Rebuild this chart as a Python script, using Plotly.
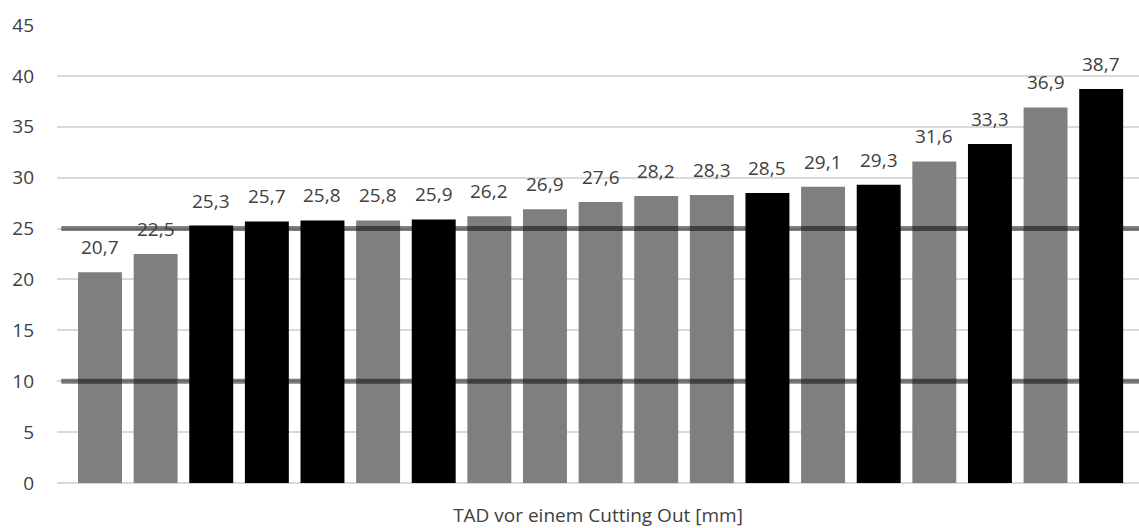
import plotly.graph_objects as go

# TAD measurements, sorted ascending
values = [20.7, 22.5, 25.3, 25.7, 25.8, 25.8, 25.9, 26.2, 26.9, 27.6,
          28.2, 28.3, 28.5, 29.1, 29.3, 31.6, 33.3, 36.9, 38.7]
# group flag per bar: 1 = black, 0 = grey
group = [0, 0, 1, 1, 1, 0, 1, 0, 0, 0, 0, 0, 1, 0, 1, 0, 1, 0, 1]
reference_lines = [10, 25]
y_ticks = [0, 5, 10, 15, 20, 25, 30, 35, 40, 45]

GREY = "#7f7f7f"
BLACK = "#000000"
FONT = "Open Sans"
TEXT_COLOR = "#404040"

x = list(range(len(values)))
colors = [BLACK if g else GREY for g in group]
labels = [f"{v:.1f}".replace(".", ",") for v in values]

fig = go.Figure()
fig.add_trace(go.Bar(
    x=x, y=values, marker=dict(color=colors, line=dict(width=0)),
    width=0.79, hoverinfo="skip", showlegend=False,
))

for xi, v, lab in zip(x, values, labels):
    fig.add_annotation(
        x=xi, y=v, xref="x", yref="y", text=lab, showarrow=False,
        yanchor="bottom", yshift=10,
        font=dict(family=FONT, size=19, color=TEXT_COLOR),
    )

for r in reference_lines:
    fig.add_shape(
        type="line", xref="paper", yref="y", x0=0.004, x1=1, y0=r, y1=r,
        line=dict(color="rgba(0,0,0,0.5)", width=5), layer="above",
    )

fig.update_layout(
    width=1139, height=528,
    margin=dict(l=57, r=0, t=25, b=45),
    paper_bgcolor="white", plot_bgcolor="white",
    bargap=0.21,
    font=dict(family=FONT, size=19, color=TEXT_COLOR),
    xaxis=dict(
        range=[-0.773, 18.68], showticklabels=False, showgrid=False,
        zeroline=False, showline=False, ticks="",
        title=dict(text="TAD vor einem Cutting Out [mm]", standoff=25,
                   font=dict(family=FONT, size=19, color=TEXT_COLOR)),
    ),
    yaxis=dict(
        range=[0, 45], tickvals=y_ticks, showgrid=True, gridcolor="#d9d9d9",
        gridwidth=1.5, zeroline=True, zerolinecolor="#d9d9d9", zerolinewidth=1.5,
        showline=False, ticks="", ticklabelstandoff=22,
        tickfont=dict(family=FONT, size=19, color=TEXT_COLOR),
    ),
)

fig.write_html("out.html")
